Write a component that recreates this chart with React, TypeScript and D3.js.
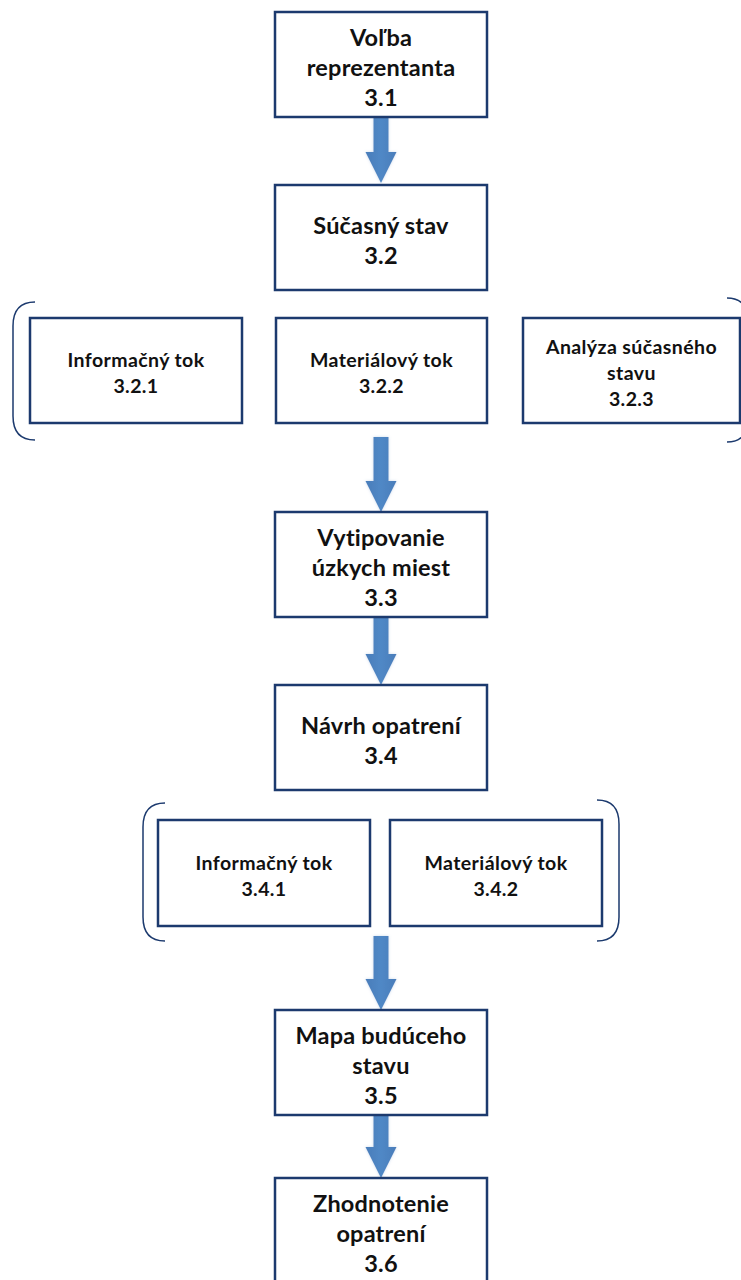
import React from "react";
import * as d3 from "d3";

// ---- data ----
const mainTitles: string[][] = [
  ["Voľba", "reprezentanta"],
  ["Súčasný stav"],
  ["Vytipovanie", "úzkych miest"],
  ["Návrh opatrení"],
  ["Mapa budúceho", "stavu"],
  ["Zhodnotenie", "opatrení"],
];
const mainCodes: string[] = ["3.1", "3.2", "3.3", "3.4", "3.5", "3.6"];

const sub32Titles: string[][] = [["Informačný tok"], ["Materiálový tok"], ["Analýza súčasného", "stavu"]];
const sub32Codes: string[] = ["3.2.1", "3.2.2", "3.2.3"];
const sub34Titles: string[][] = [["Informačný tok"], ["Materiálový tok"]];
const sub34Codes: string[] = ["3.4.1", "3.4.2"];

// ---- layout ----
const W = 741;
const H = 1280;
const MAIN_X = 275;
const MAIN_W = 212;
const BOX_H = 105;
const mainTops = [12, 185, 512, 685, 1010, 1178];
const sub32X = [30, 276, 523];
const sub32W = [212, 211, 217];
const sub32Top = 318;
const sub34X = [158, 390];
const sub34W = [212, 212];
const sub34Top = 820;

const ARROW_X = 381;
const arrows = [
  { y0: 117, y1: 183 },
  { y0: 437, y1: 512 },
  { y0: 617, y1: 685 },
  { y0: 936, y1: 1010 },
  { y0: 1111, y1: 1178 },
];

const STROKE = "#1c3a6e";
const FONT = "Lato, 'Open Sans', sans-serif";

function Box({ x, y, w, h, lines, size, lh, ls }: { x: number; y: number; w: number; h: number; lines: string[]; size: number; lh: number; ls: number }) {
  const cy = y + h / 2;
  const n = lines.length;
  return (
    <g>
      <rect x={x} y={y} width={w} height={h} fill="#fff" stroke={STROKE} strokeWidth={2.5} />
      {lines.map((t, i) => (
        <text
          key={i}
          x={x + w / 2}
          y={cy + (i - (n - 1) / 2) * lh + 2}
          textAnchor="middle"
          dominantBaseline="central"
          fontFamily={FONT}
          fontWeight={700}
          fontSize={size}
          letterSpacing={ls}
          fill="#111"
        >
          {t}
        </text>
      ))}
    </g>
  );
}

function Arrow({ y0, y1 }: { y0: number; y1: number }) {
  const headH = 31;
  const shaftW = 15;
  const headW = 31;
  const yh = y1 - headH;
  const p = d3.path();
  p.moveTo(ARROW_X - shaftW / 2, y0);
  p.lineTo(ARROW_X + shaftW / 2, y0);
  p.lineTo(ARROW_X + shaftW / 2, yh);
  p.lineTo(ARROW_X + headW / 2, yh);
  p.lineTo(ARROW_X, y1);
  p.lineTo(ARROW_X - headW / 2, yh);
  p.lineTo(ARROW_X - shaftW / 2, yh);
  p.closePath();
  return <path d={p.toString()} fill="url(#arrowGrad)" filter="url(#glow)" />;
}

function bracketPath(xEnd: number, xVert: number, yTop: number, yBot: number, r: number) {
  const p = d3.path();
  p.moveTo(xEnd, yTop);
  p.quadraticCurveTo(xVert, yTop, xVert, yTop + r * 1.2);
  p.lineTo(xVert, yBot - r * 1.2);
  p.quadraticCurveTo(xVert, yBot, xEnd, yBot);
  return p.toString();
}

export default function App() {
  const lines = (i: number) => [...mainTitles[i], mainCodes[i]];
  return (
    <svg width={W} height={H} style={{ position: "absolute", left: 0, top: 0, display: "block", background: "#fff" }}>
      <defs>
        <linearGradient id="arrowGrad" x1="0" x2="1" y1="0" y2="0">
          <stop offset="0" stopColor="#4a7dba" />
          <stop offset="0.5" stopColor="#5088c6" />
          <stop offset="1" stopColor="#4a7dba" />
        </linearGradient>
        <filter id="glow" x="-50%" y="-20%" width="200%" height="140%">
          <feGaussianBlur in="SourceAlpha" stdDeviation="1.5" result="b" />
          <feFlood floodColor="#9ab6d8" floodOpacity="0.5" />
          <feComposite in2="b" operator="in" result="s" />
          <feMerge>
            <feMergeNode in="s" />
            <feMergeNode in="SourceGraphic" />
          </feMerge>
        </filter>
      </defs>

      {/* brackets */}
      <path d={bracketPath(35, 13, 302, 440, 20)} fill="none" stroke={STROKE} strokeWidth={1.5} />
      <path d={bracketPath(727, 748, 298, 442, 20)} fill="none" stroke={STROKE} strokeWidth={1.5} />
      <path d={bracketPath(165, 143, 803, 941, 20)} fill="none" stroke={STROKE} strokeWidth={1.5} />
      <path d={bracketPath(597, 619, 800, 941, 20)} fill="none" stroke={STROKE} strokeWidth={1.5} />

      {arrows.map((a, i) => (
        <Arrow key={i} y0={a.y0} y1={a.y1} />
      ))}

      {mainTops.map((t, i) => (
        <Box key={i} x={MAIN_X} y={t} w={MAIN_W} h={BOX_H} lines={lines(i)} size={23.5} lh={30} ls={0.2} />
      ))}

      {sub32X.map((x, i) => (
        <Box key={i} x={x} y={sub32Top} w={sub32W[i]} h={BOX_H} lines={[...sub32Titles[i], sub32Codes[i]]} size={19.5} lh={26} ls={0.4} />
      ))}
      {sub34X.map((x, i) => (
        <Box key={i} x={x} y={sub34Top} w={sub34W[i]} h={BOX_H + 1} lines={[...sub34Titles[i], sub34Codes[i]]} size={19.5} lh={26} ls={0.4} />
      ))}
    </svg>
  );
}
